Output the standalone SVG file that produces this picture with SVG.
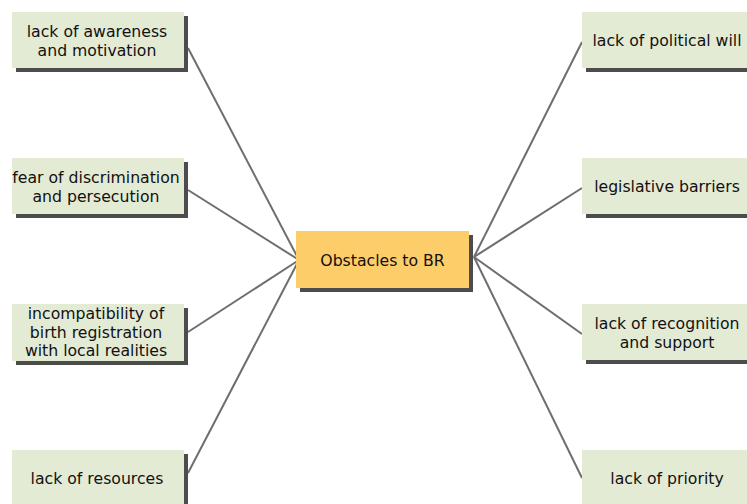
<svg xmlns="http://www.w3.org/2000/svg" width="747" height="504" viewBox="0 0 747 504">
<style>
.sh{fill:#4c4c4c}
.bx{fill:#e4ebd5}
.ctr{fill:#fdcd6a}
text{font-family:"DejaVu Sans",Verdana,sans-serif;font-size:15.7px;fill:#111;text-anchor:middle}
.ln line{stroke:#6e6e6e;stroke-width:2}
</style>
<rect width="747" height="504" fill="#ffffff"/>
<g id="connectors">
<g class="ln">
<line x1="188" y1="48" x2="299" y2="260"/>
<line x1="188" y1="190" x2="299" y2="260"/>
<line x1="188" y1="332" x2="299" y2="260"/>
<line x1="188" y1="473" x2="299" y2="260"/>
<line x1="474" y1="257" x2="582" y2="42"/>
<line x1="474" y1="257" x2="582" y2="188"/>
<line x1="474" y1="257" x2="582" y2="334"/>
<line x1="474" y1="257" x2="582" y2="478"/>
</g>
</g>
<g id="center">
<rect class="sh" x="300" y="235" width="173" height="57"/>
<rect class="ctr" x="296" y="231" width="173" height="57"/>
<text x="382.5" y="265.5">Obstacles to BR</text>
</g>
<g id="awareness">
<rect class="sh" x="16" y="16" width="172" height="56"/>
<rect class="bx" x="12" y="12" width="172" height="56"/>
<text x="97" y="36.5">lack of awareness</text>
<text x="97" y="55.5">and motivation</text>
</g>
<g id="fear">
<rect class="sh" x="16" y="162" width="172" height="56"/>
<rect class="bx" x="12" y="158" width="172" height="56"/>
<text x="96" y="182.5">fear of discrimination</text>
<text x="96" y="201.5">and persecution</text>
</g>
<g id="incompatibility">
<rect class="sh" x="16" y="308" width="172" height="57"/>
<rect class="bx" x="12" y="304" width="172" height="57"/>
<text x="96" y="319">incompatibility of</text>
<text x="96" y="337.5">birth registration</text>
<text x="96" y="356">with local realities</text>
</g>
<g id="resources">
<rect class="sh" x="16" y="454" width="172" height="56"/>
<rect class="bx" x="12" y="450" width="172" height="56"/>
<text x="97" y="484">lack of resources</text>
</g>
<g id="political">
<rect class="sh" x="586" y="16" width="172" height="56"/>
<rect class="bx" x="582" y="12" width="172" height="56"/>
<text x="667" y="46">lack of political will</text>
</g>
<g id="legislative">
<rect class="sh" x="586" y="162" width="172" height="56"/>
<rect class="bx" x="582" y="158" width="172" height="56"/>
<text x="667" y="192">legislative barriers</text>
</g>
<g id="recognition">
<rect class="sh" x="586" y="308" width="172" height="56"/>
<rect class="bx" x="582" y="304" width="172" height="56"/>
<text x="667" y="328.5">lack of recognition</text>
<text x="667" y="347.5">and support</text>
</g>
<g id="priority">
<rect class="sh" x="586" y="454" width="172" height="56"/>
<rect class="bx" x="582" y="450" width="172" height="56"/>
<text x="667" y="484">lack of priority</text>
</g>
</svg>
